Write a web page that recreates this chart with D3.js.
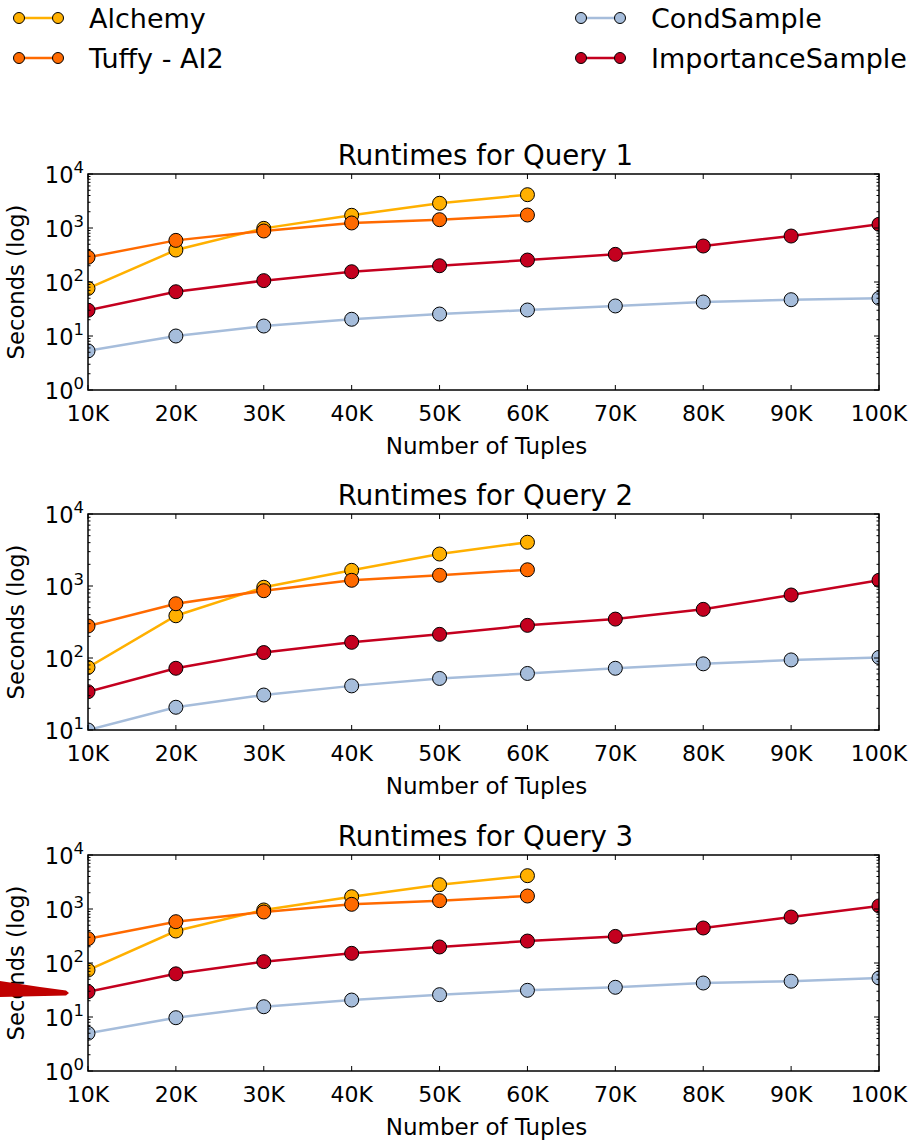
<!DOCTYPE html>
<html>
<head>
<meta charset="utf-8">
<script src="https://cdn.jsdelivr.net/npm/d3@7"></script>
<style>
  body { margin: 0; background: #fff; }
  svg { display: block; font-family: 'DejaVu Sans', sans-serif; }
</style>
</head>
<body>
<div id="chart"></div>
<script>
'use strict';

/************************************************ data ******************************************************/

var tupleCounts = [10000, 20000, 30000, 40000, 50000, 60000, 70000, 80000, 90000, 100000];
var tupleLabels = ['10K', '20K', '30K', '40K', '50K', '60K', '70K', '80K', '90K', '100K'];

var seriesNames = ['Alchemy', 'Tuffy - AI2', 'CondSample', 'ImportanceSample'];
var seriesColors = ['#ffb000', '#ff6a00', '#a6bddb', '#c4001f'];

// query 1 (seconds)
var q1Alchemy = [76, 391, 985, 1720, 2870, 4140];
var q1Tuffy = [287, 590, 880, 1240, 1425, 1740];
var q1Cond = [5.3, 10, 15.3, 20.4, 25.5, 30.3, 36, 42.6, 47, 50];
var q1Importance = [30, 66, 106, 155, 200, 255, 325, 464, 710, 1170];

// query 2 (seconds)
var q2Alchemy = [74, 386, 960, 1650, 2780, 4050];
var q2Tuffy = [278, 567, 860, 1200, 1410, 1680];
var q2Cond = [10, 20.7, 30.6, 41, 52, 61, 72, 83, 94, 102];
var q2Importance = [34, 72, 119, 165, 213, 284, 347, 474, 750, 1200];

// query 3 (seconds)
var q3Alchemy = [74, 391, 960, 1690, 2820, 4140];
var q3Tuffy = [282, 582, 880, 1220, 1425, 1740];
var q3Cond = [5, 9.7, 15.5, 20.6, 25.9, 31.2, 35.5, 42.6, 46, 52.7];
var q3Importance = [29.4, 63, 106, 151, 198, 255, 311, 445, 710, 1140];

var queryTitles = ['Runtimes for Query 1', 'Runtimes for Query 2', 'Runtimes for Query 3'];
var queryDomains = [[1, 10000], [10, 10000], [1, 10000]];
var querySeries = [
    [q1Alchemy, q1Tuffy, q1Cond, q1Importance],
    [q2Alchemy, q2Tuffy, q2Cond, q2Importance],
    [q3Alchemy, q3Tuffy, q3Cond, q3Importance]
];

/************************************************ layout ******************************************************/

var width = 914,
    height = 1145,
    plotLeft = 88,
    plotRight = 879,
    plotHeight = 216,
    panelTops = [174, 514, 855];

var svg = d3.select('#chart').append('svg')
    .attr('width', width)
    .attr('height', height);

var x = d3.scaleLinear()
    .domain([10000, 100000])
    .range([plotLeft, plotRight]);

drawLegend();
queryTitles.forEach(function (title, i) {
    drawPanel(i);
});
drawMark();

/**drawLegend
 *  two column legend at the top of the figure
 */
function drawLegend() {
    var items = [
        { col: 0, row: 0 }, { col: 0, row: 1 },
        { col: 1, row: 0 }, { col: 1, row: 1 }
    ];
    var colX = [19, 581],
        rowY = [18, 58];

    var legend = svg.append('g').attr('class', 'legend');

    items.forEach(function (it, i) {
        var x0 = colX[it.col],
            y0 = rowY[it.row],
            g = legend.append('g');

        g.append('line')
            .attr('x1', x0).attr('x2', x0 + 39)
            .attr('y1', y0).attr('y2', y0)
            .attr('stroke', seriesColors[i])
            .attr('stroke-width', 2.5);

        g.selectAll('circle')
            .data([x0, x0 + 39])
            .enter().append('circle')
            .attr('cx', function (d) { return d; })
            .attr('cy', y0)
            .attr('r', 5.5)
            .attr('fill', seriesColors[i])
            .attr('stroke', '#000')
            .attr('stroke-width', 1);

        g.append('text')
            .attr('x', x0 + 70)
            .attr('y', y0 + 10)
            .attr('font-size', 27)
            .text(seriesNames[i]);
    });
}

/**drawPanel
 *  one log scale runtime plot
 */
function drawPanel(idx) {
    var top = panelTops[idx],
        bottom = top + plotHeight,
        domain = queryDomains[idx];

    var y = d3.scaleLog()
        .domain(domain)
        .range([bottom, top]);

    var g = svg.append('g').attr('class', 'panel');

    g.append('clipPath')
        .attr('id', 'clip' + idx)
        .append('rect')
        .attr('x', plotLeft)
        .attr('y', top)
        .attr('width', plotRight - plotLeft)
        .attr('height', plotHeight);

    //title
    g.append('text')
        .attr('x', (plotLeft + plotRight) / 2 + 2)
        .attr('y', top - 9)
        .attr('text-anchor', 'middle')
        .attr('font-size', 27.6)
        .text(queryTitles[idx]);

    //series
    var line = d3.line()
        .x(function (d, i) { return x(tupleCounts[i]); })
        .y(function (d) { return y(d); });

    var plot = g.append('g').attr('clip-path', 'url(#clip' + idx + ')');

    querySeries[idx].forEach(function (values, s) {
        plot.append('path')
            .attr('d', line(values))
            .attr('fill', 'none')
            .attr('stroke', seriesColors[s])
            .attr('stroke-width', 2.5);

        plot.selectAll('circle.s' + s)
            .data(values)
            .enter().append('circle')
            .attr('class', 's' + s)
            .attr('cx', function (d, i) { return x(tupleCounts[i]); })
            .attr('cy', function (d) { return y(d); })
            .attr('r', 7)
            .attr('fill', seriesColors[s])
            .attr('stroke', '#000')
            .attr('stroke-width', 1);
    });

    //ticks, all pointing inward
    var ticks = g.append('g').attr('stroke', '#000');

    tupleCounts.forEach(function (t) {
        ticks.append('line')
            .attr('x1', x(t)).attr('x2', x(t))
            .attr('y1', bottom).attr('y2', bottom - 5);
        ticks.append('line')
            .attr('x1', x(t)).attr('x2', x(t))
            .attr('y1', top).attr('y2', top + 5);
    });

    var lo = Math.round(Math.log10(domain[0])),
        hi = Math.round(Math.log10(domain[1]));
    for (var e = lo; e <= hi; e++) {
        var major = Math.pow(10, e);
        ticks.append('line')
            .attr('x1', plotLeft).attr('x2', plotLeft + 5)
            .attr('y1', y(major)).attr('y2', y(major));
        ticks.append('line')
            .attr('x1', plotRight).attr('x2', plotRight - 5)
            .attr('y1', y(major)).attr('y2', y(major));
        if (e < hi) {
            for (var m = 2; m < 10; m++) {
                var v = m * major;
                ticks.append('line')
                    .attr('x1', plotLeft).attr('x2', plotLeft + 2.5)
                    .attr('y1', y(v)).attr('y2', y(v));
                ticks.append('line')
                    .attr('x1', plotRight).attr('x2', plotRight - 2.5)
                    .attr('y1', y(v)).attr('y2', y(v));
            }
        }

        //10^e label
        var label = g.append('text')
            .attr('x', plotLeft - 4)
            .attr('y', y(major) + 9)
            .attr('text-anchor', 'end')
            .attr('font-size', 22.5);
        label.append('tspan').text('10');
        label.append('tspan')
            .attr('dy', -10)
            .attr('font-size', 16.5)
            .text(e);
    }

    //x tick labels
    g.selectAll('text.xlab')
        .data(tupleLabels)
        .enter().append('text')
        .attr('class', 'xlab')
        .attr('x', function (d, i) { return x(tupleCounts[i]); })
        .attr('y', bottom + 31)
        .attr('text-anchor', 'middle')
        .attr('font-size', 22)
        .text(function (d) { return d; });

    //axis titles
    g.append('text')
        .attr('x', (plotLeft + plotRight) / 2 + 3)
        .attr('y', bottom + 64)
        .attr('text-anchor', 'middle')
        .attr('font-size', 23)
        .text('Number of Tuples');

    g.append('text')
        .attr('transform', 'translate(24,' + (top + plotHeight / 2) + ') rotate(-90)')
        .attr('text-anchor', 'middle')
        .attr('font-size', 22.7)
        .text('Seconds (log)');

    //frame
    g.append('rect')
        .attr('x', plotLeft)
        .attr('y', top)
        .attr('width', plotRight - plotLeft)
        .attr('height', plotHeight)
        .attr('fill', 'none')
        .attr('stroke', '#000')
        .attr('stroke-width', 1.5);
}

/**drawMark
 *  the red pen stroke beside the third panel
 */
function drawMark() {
    var pts = [[0, 981], [40, 987], [66, 990.5], [69, 993], [66, 995.5], [0, 997]];
    svg.append('path')
        .attr('d', d3.line()(pts) + 'Z')
        .attr('fill', '#c00000');
}
</script>
</body>
</html>
